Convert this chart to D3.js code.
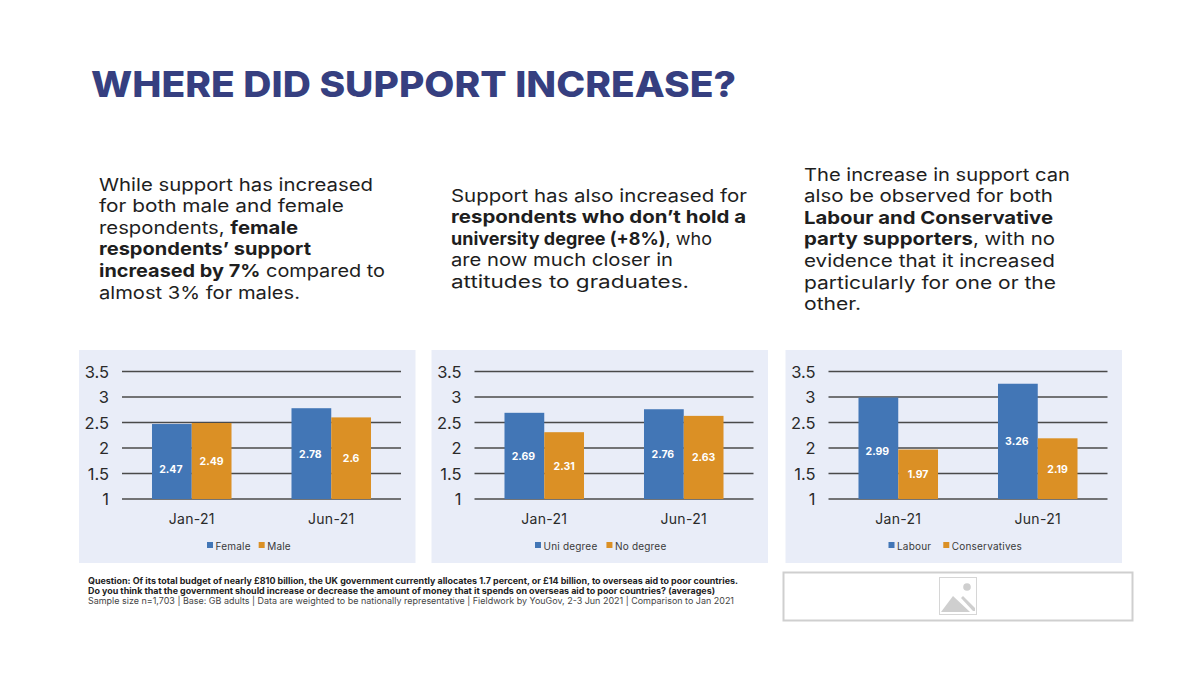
<!DOCTYPE html>
<html><head><meta charset="utf-8">
<script src="https://cdn.jsdelivr.net/npm/d3@7"></script>
<style>html,body{margin:0;background:#fff}svg{display:block}text{font-family:Inter,"Open Sans",sans-serif}</style>
</head><body><div id="c"></div>
<script>
const categories = ["Jan-21", "Jun-21"];
const tickLabels = [1, 1.5, 2, 2.5, 3, 3.5];
const seriesNames1 = ["Female", "Male"];
const values1a = [2.47, 2.78];
const values1b = [2.49, 2.6];
const seriesNames2 = ["Uni degree", "No degree"];
const values2a = [2.69, 2.76];
const values2b = [2.31, 2.63];
const seriesNames3 = ["Labour", "Conservatives"];
const values3a = [2.99, 3.26];
const values3b = [1.97, 2.19];
const labelNudge1 = [[7, 0], [0, 0]];
const labelNudge2 = [[0, 0], [0, 0]];
const labelNudge3 = [[3, 0], [0, 0]];

const blue = "#4276b6", orange = "#db9025", panelBg = "#e9edf8", navy = "#363f80", ink = "#1e1e1e";
const svg = d3.select("#c").append("svg").attr("width", 1200).attr("height", 675);
svg.append("rect").attr("width", 1200).attr("height", 675).attr("fill", "#fff");

svg.append("text").attr("x", 91).attr("y", 97).attr("fill", navy)
  .attr("font-size", 36).attr("font-weight", 800)
  .attr("textLength", 645).attr("lengthAdjust", "spacingAndGlyphs")
  .text("WHERE DID SUPPORT INCREASE?");

// Paragraphs: each line is a list of [text, bold]
const para1 = [
  [["While support has increased", 0]],
  [["for both male and female", 0]],
  [["respondents, ", 0], ["female", 1]],
  [["respondents’ support", 1]],
  [["increased by 7%", 1], [" compared to", 0]],
  [["almost 3% for males.", 0]]
];
const para2 = [
  [["Support has also increased for", 0]],
  [["respondents who don’t hold a", 1]],
  [["university degree (+8%)", 1], [", who", 0]],
  [["are now much closer in", 0]],
  [["attitudes to graduates.", 0]]
];
const para3 = [
  [["The increase in support can", 0]],
  [["also be observed for both", 0]],
  [["Labour and Conservative", 1]],
  [["party supporters", 1], [", with no", 0]],
  [["evidence that it increased", 0]],
  [["particularly for one or the", 0]],
  [["other.", 0]]
];
const lineWidths1 = [274, 245, 199, 212, 286, 201];
const lineWidths2 = [296, 295, 261, 222, 238];
const lineWidths3 = [266, 249, 249, 251, 251, 252, 57];
function para(lines, widths, x, y0) {
  lines.forEach((runs, i) => {
    const t = svg.append("text").attr("x", x).attr("y", y0 + i * 21.6)
      .attr("font-size", 17.8).attr("fill", ink)
      .attr("textLength", widths[i]).attr("lengthAdjust", "spacingAndGlyphs");
    runs.forEach(r => t.append("tspan").attr("font-weight", r[1] ? 700 : 400).text(r[0]));
  });
}
para(para1, lineWidths1, 99, 190.5);
para(para2, lineWidths2, 451, 201.5);
para(para3, lineWidths3, 804, 180.5);

function chart(px, names, a, b, nudge, legendX, legendGap) {
  const g = svg.append("g").attr("transform", `translate(${px},350)`);
  g.append("rect").attr("width", 336.5).attr("height", 213).attr("fill", panelBg);
  const y = d3.scaleLinear().domain([1, 3.5]).range([149, 21.5]);
  const x = d3.scaleBand().domain(categories).range([43, 322]).paddingInner(0.43).paddingOuter(0.215);
  const x1 = d3.scaleBand().domain(names).range([0, x.bandwidth()]);
  const yAxis = d3.axisLeft(y).tickValues(tickLabels).tickFormat(d3.format("~g")).tickSize(0).tickPadding(13);
  const ya = g.append("g").attr("transform", "translate(43,0)").call(yAxis);
  ya.select(".domain").remove();
  ya.selectAll("text").attr("font-size", 16.5).attr("fill", "#2a2a2a").attr("dy", "0.34em");
  g.append("g").selectAll("line").data(tickLabels).join("line")
    .attr("x1", 43).attr("x2", 322).attr("y1", d => y(d)).attr("y2", d => y(d))
    .attr("stroke", "#4a4a4a").attr("stroke-width", 1.4);
  [a, b].forEach((vals, s) => {
    g.append("g").selectAll("rect").data(vals).join("rect")
      .attr("x", (d, i) => x(categories[i]) + x1(names[s]))
      .attr("width", x1.bandwidth())
      .attr("y", d => y(d)).attr("height", d => y(1) - y(d))
      .attr("fill", s ? orange : blue);
    g.append("g").selectAll("text").data(vals).join("text")
      .attr("x", (d, i) => x(categories[i]) + x1(names[s]) + x1.bandwidth() / 2 - (s ? 0 : 1))
      .attr("y", (d, i) => (y(d) + y(1)) / 2 + 4 + nudge[i][s])
      .attr("text-anchor", "middle").attr("font-size", 10.5).attr("font-weight", 700).attr("fill", "#fff")
      .text(d => d);
  });
  const xa = g.append("g").attr("transform", "translate(0,149)")
    .call(d3.axisBottom(x).tickSize(0).tickPadding(15));
  xa.select(".domain").remove();
  xa.selectAll("text").attr("font-size", 14).attr("fill", "#2a2a2a").attr("letter-spacing", 0.3);
  // legend
  let lx = legendX;
  names.forEach((n, i) => {
    g.append("rect").attr("x", lx).attr("y", 192).attr("width", 6).attr("height", 6).attr("fill", i ? orange : blue);
    const t = g.append("text").attr("x", lx + 8.5).attr("y", 199.5).attr("font-size", 10).attr("fill", "#3a3a3a").attr("letter-spacing", 0.2).text(n);
    lx += 8.5 + t.node().getComputedTextLength() + legendGap;
  });
}
chart(79, seriesNames1, values1a, values1b, labelNudge1, 128, 8);
chart(431.5, seriesNames2, values2a, values2b, labelNudge2, 103.5, 9);
chart(785.5, seriesNames3, values3a, values3b, labelNudge3, 103, 12);

// Footnote
const foot = [
  ["Question: Of its total budget of nearly £810 billion, the UK government currently allocates 1.7 percent, or £14 billion, to overseas aid to poor countries.", 700, 650, 584],
  ["Do you think that the government should increase or decrease the amount of money that it spends on overseas aid to poor countries? (averages)", 700, 627, 593.5],
  ["Sample size n=1,703 | Base: GB adults | Data are weighted to be nationally representative | Fieldwork by YouGov, 2-3 Jun 2021 | Comparison to Jan 2021", 400, 646, 603.5]
];
foot.forEach(f => svg.append("text").attr("x", 88).attr("y", f[3]).attr("font-size", 8.6).attr("font-weight", f[1])
  .attr("fill", f[1] > 500 ? "#222" : "#444").attr("textLength", f[2]).attr("lengthAdjust", "spacingAndGlyphs").text(f[0]));

// Missing-image placeholder
svg.append("rect").attr("x", 783.5).attr("y", 572.5).attr("width", 349).attr("height", 48)
  .attr("fill", "#fff").attr("stroke", "#cfcfcf").attr("stroke-width", 2);
svg.append("rect").attr("x", 939.5).attr("y", 577.5).attr("width", 37).attr("height", 37)
  .attr("fill", "#fff").attr("stroke", "#d6d6d6");
svg.append("circle").attr("cx", 967).attr("cy", 587).attr("r", 3.8).attr("fill", "#cfcfcf");
svg.append("path").attr("d", "M941 612 L953 596 L970 612 Z").attr("fill", "#cfcfcf");
svg.append("path").attr("d", "M961 598 L963 596 L975 608 L975 611 L973 611 Z").attr("fill", "#cfcfcf");
</script></body></html>
